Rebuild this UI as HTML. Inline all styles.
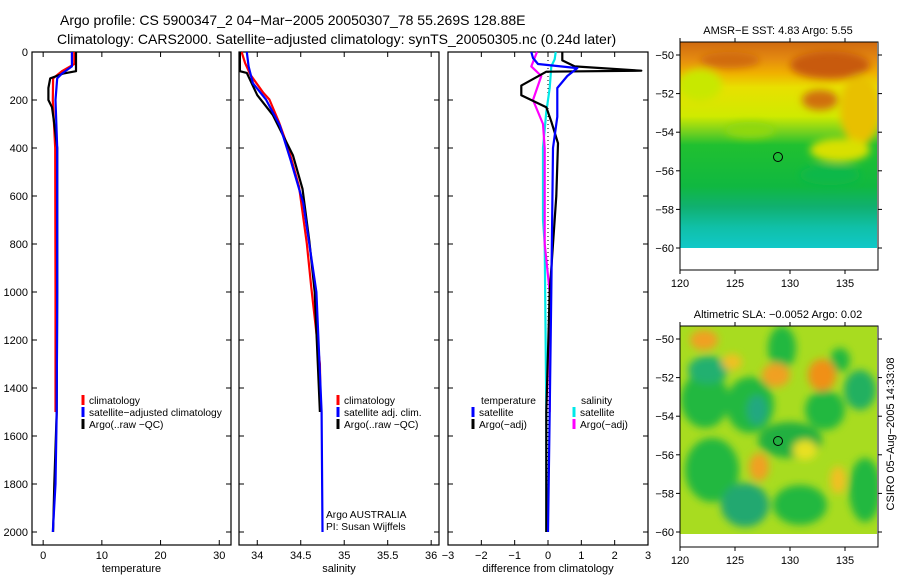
<!DOCTYPE html>
<html><head><meta charset="utf-8"><style>
body{margin:0;background:#fff;width:900px;height:580px;overflow:hidden}
svg{display:block;font-family:"Liberation Sans",sans-serif}
</style></head><body>
<svg id="c" width="900" height="580" viewBox="0 0 900 580">
<defs>
<linearGradient id="sstg" x1="0" y1="0" x2="0" y2="1">
<stop offset="0" stop-color="#d06a10"/><stop offset="0.08" stop-color="#e48a10"/>
<stop offset="0.15" stop-color="#f0b000"/><stop offset="0.22" stop-color="#e8e000"/>
<stop offset="0.36" stop-color="#d0ea00"/><stop offset="0.44" stop-color="#70d020"/>
<stop offset="0.5" stop-color="#20c030"/><stop offset="0.7" stop-color="#10b840"/>
<stop offset="0.8" stop-color="#10b070"/><stop offset="0.9" stop-color="#10c0a8"/>
<stop offset="1" stop-color="#10c8c8"/></linearGradient>
<filter id="bl"><feGaussianBlur stdDeviation="4"/></filter>
<clipPath id="m1"><rect x="680" y="42" width="197" height="206"/></clipPath>
<clipPath id="m2"><rect x="680" y="326" width="197" height="208"/></clipPath>
</defs>
<g id="titles" font-size="14">
<text x="60" y="25">Argo profile: CS 5900347_2 04−Mar−2005 20050307_78 55.269S 128.88E</text>
<text x="57" y="44">Climatology: CARS2000. Satellite−adjusted climatology: synTS_20050305.nc (0.24d later)</text>
</g>
<!-- SST map -->
<g>
<g clip-path="url(#m1)">
<rect x="680" y="42" width="197" height="206" fill="url(#sstg)"/>
<g filter="url(#bl)">
<ellipse cx="700" cy="85" rx="22" ry="16" fill="#c8e800"/>
<ellipse cx="830" cy="65" rx="40" ry="14" fill="#c85a08"/>
<ellipse cx="860" cy="110" rx="20" ry="35" fill="#e8c000"/>
<ellipse cx="820" cy="100" rx="18" ry="10" fill="#d07010"/>
<ellipse cx="730" cy="60" rx="30" ry="8" fill="#d06a10"/>
<ellipse cx="840" cy="150" rx="30" ry="12" fill="#d8e000"/>
<ellipse cx="750" cy="130" rx="25" ry="8" fill="#90d810"/>
<ellipse cx="830" cy="175" rx="30" ry="10" fill="#10b848"/>
</g></g>
<circle cx="778" cy="157" r="4.5" fill="none" stroke="#000"/>
<text x="778" y="34" font-size="11" text-anchor="middle">AMSR−E SST: 4.83 Argo: 5.55</text>
</g>
<!-- SLA map -->
<g>
<g clip-path="url(#m2)">
<rect x="680" y="326" width="197" height="208" fill="#a8dc20"/>
<g filter="url(#bl)">
<ellipse cx="705" cy="400" rx="24" ry="28" fill="#20b840"/>
<ellipse cx="708" cy="370" rx="20" ry="14" fill="#20b070"/>
<ellipse cx="750" cy="405" rx="24" ry="28" fill="#20b840"/>
<ellipse cx="757" cy="410" rx="10" ry="15" fill="#20a880"/>
<ellipse cx="782" cy="348" rx="14" ry="22" fill="#20b840"/>
<ellipse cx="790" cy="440" rx="32" ry="18" fill="#20b040"/>
<ellipse cx="825" cy="410" rx="20" ry="20" fill="#20b840"/>
<ellipse cx="860" cy="390" rx="16" ry="20" fill="#20b060"/>
<ellipse cx="712" cy="470" rx="27" ry="32" fill="#20b840"/>
<ellipse cx="745" cy="505" rx="24" ry="22" fill="#20a870"/>
<ellipse cx="800" cy="505" rx="27" ry="20" fill="#20b840"/>
<ellipse cx="865" cy="490" rx="16" ry="32" fill="#20b840"/>
<ellipse cx="840" cy="360" rx="10" ry="12" fill="#20b840"/>
<ellipse cx="776" cy="375" rx="14" ry="12" fill="#f0a020"/>
<ellipse cx="822" cy="375" rx="14" ry="16" fill="#f09018"/>
<ellipse cx="759" cy="467" rx="10" ry="14" fill="#f0a020"/>
<ellipse cx="704" cy="340" rx="14" ry="10" fill="#f0a020"/>
<ellipse cx="732" cy="362" rx="10" ry="8" fill="#f0c020"/>
<ellipse cx="838" cy="480" rx="8" ry="14" fill="#f0c020"/>
<ellipse cx="805" cy="450" rx="12" ry="10" fill="#e8e020"/>
</g></g>
<circle cx="778" cy="441" r="4.5" fill="none" stroke="#000"/>
<text x="778" y="318" font-size="11" text-anchor="middle">Altimetric SLA: −0.0052 Argo: 0.02</text>
</g>
<text transform="translate(894,434) rotate(-90)" font-size="11" text-anchor="middle">CSIRO 05−Aug−2005 14:33:08</text>
<g id="plots"></g>
</svg>
<script>
// ---- data ----
const tempDepthClim=[0,50,60,80,110,200,400,1000,1500];
const tempClim=[5.3,5.3,4.6,3.2,1.7,1.65,2.05,2.1,2.1];
const tempDepthSat=[0,60,90,110,200,400,1000,1500,1800,2000];
const tempSat=[4.9,4.9,3.2,2.4,2.1,2.4,2.4,2.3,2.1,1.65];
const tempDepthArgo=[0,80,90,110,150,200,230,300,400,1000,1500,1800,2000];
const tempArgo=[5.6,5.6,3.4,1.2,0.9,0.9,1.5,1.9,2.4,2.4,2.3,1.9,1.7];

const salDepthClim=[0,46,94,170,198,293,404,560,797,978,1300,1500];
const salClim=[33.82,33.86,33.92,34.07,34.14,34.25,34.36,34.48,34.57,34.62,34.72,34.73];
const salDepthSat=[0,60,130,198,307,446,630,1000,1500,2000];
const salSat=[33.88,33.9,33.95,34.1,34.26,34.38,34.53,34.68,34.74,34.75];
const salDepthArgo=[0,80,87,180,263,430,570,790,1000,1500];
const salArgo=[33.8,33.8,33.88,34.0,34.18,34.41,34.52,34.6,34.66,34.72];

const dDepthTSat=[0,25,50,67,100,150,270,400,1000,1500,2000];
const dTSat=[-0.5,-0.45,-0.3,0.88,0.58,0.28,0.28,0.15,0.1,0.05,0.0];
const dDepthTArgo=[0,35,60,78,82,140,180,230,290,380,600,800,1000,1500,2000];
const dTArgo=[0.43,0.43,0.8,2.8,-0.05,-0.8,-0.8,-0.05,0.1,0.3,0.25,0.15,0.05,-0.05,-0.05];
const dDepthSSat=[0,30,60,150,250,400,700,800,1500,2000];
const dSSat=[0.23,0.2,0.1,0.05,-0.05,-0.15,-0.15,-0.1,-0.05,-0.05];
const dDepthSArgo=[0,60,100,200,300,400,800,1000,1500];
const dSArgo=[-0.33,-0.5,-0.2,-0.45,-0.15,-0.1,-0.1,0.05,0.05];

const depthTicks=[0,200,400,600,800,1000,1200,1400,1600,1800,2000];
const tempTicks=[0,10,20,30];
const salTicks=[34,34.5,35,35.5,36];
const diffTicks=[-3,-2,-1,0,1,2,3];
const latTicks=[-50,-52,-54,-56,-58,-60];
const lonTicks=[120,125,130,135];

// ---- drawing ----
const NS='http://www.w3.org/2000/svg';
const root=document.getElementById('plots');
function mk(tag,attrs,parent){const e=document.createElementNS(NS,tag);for(const k in attrs)e.setAttribute(k,attrs[k]);(parent||root).appendChild(e);return e;}
const Y0=52,YB=545;
const yD=d=>Y0+d*0.24;
function panel(name,x0,x1,vmin,vmax,ticks,label,title){
  const g=mk('g',{});
  
  
  const sx=v=>x0+(v-vmin)/(vmax-vmin)*(x1-x0);
  mk('rect',{x:x0,y:Y0,width:x1-x0,height:YB-Y0,fill:'none',stroke:'#000','stroke-width':1.2},g);
  ticks.forEach(t=>{const x=sx(t);
    mk('line',{x1:x,x2:x,y1:YB,y2:YB-5,stroke:'#000'},g);
    mk('line',{x1:x,x2:x,y1:Y0,y2:Y0+5,stroke:'#000'},g);
    const tx=mk('text',{x:x,y:YB+14,'font-size':11,'text-anchor':'middle'},g);tx.textContent=String(label(t)).replace('-','−');
  });
  depthTicks.forEach(d=>{const y=yD(d);
    mk('line',{x1:x0,x2:x0+5,y1:y,y2:y,stroke:'#000'},g);
    mk('line',{x1:x1,x2:x1-5,y1:y,y2:y,stroke:'#000'},g);
  });
  const tt=mk('text',{x:(x0+x1)/2,y:572,'font-size':11,'text-anchor':'middle'},g);
  
  
  tt.textContent=title;
  return {g,sx};
}
function series(p,depths,vals,color,name,w){
  let d='';
  for(let i=0;i<vals.length;i++){
    const x=p.sx(vals[i]),y=yD(depths[i]);
    d+=(i?'L':'M')+x.toFixed(1)+','+y.toFixed(1);
  }
  const e=mk('path',{d:d,fill:'none',stroke:color,'stroke-width':w||2.2,'stroke-linejoin':'round'},p.g);
  
  
}
function legend(g,x,y,color,text,name){
  const l=mk('g',{},g);
  
  
  if(color) mk('line',{x1:x,x2:x,y1:y-9,y2:y+1,stroke:color,'stroke-width':3},l);
  const t=mk('text',{x:x+6,y:y,'font-size':10.2},l);t.textContent=text;
}
// y labels (depth)
const yl=mk('g',{});


depthTicks.forEach(d=>{const t=mk('text',{x:28,y:yD(d)+4,'font-size':11,'text-anchor':'end'},yl);t.textContent=d;});

const p1=panel('temperature-panel',32,231,-1.9,32,tempTicks,t=>t,'temperature');
series(p1,tempDepthClim,tempClim,'#f00','temp-climatology-line');
series(p1,tempDepthArgo,tempArgo,'#000','temp-argo-line');
series(p1,tempDepthSat,tempSat,'#00f','temp-satellite-line');
legend(p1.g,83,404,'#f00','climatology','legend-climatology');
legend(p1.g,83,416,'#00f','satellite−adjusted climatology','legend-satellite-adjusted');
legend(p1.g,83,428,'#000','Argo(..raw −QC)','legend-argo');

const p2=panel('salinity-panel',239,439,33.79,36.09,salTicks,t=>t,'salinity');
series(p2,salDepthClim,salClim,'#f00','sal-climatology-line');
series(p2,salDepthArgo,salArgo,'#000','sal-argo-line');
series(p2,salDepthSat,salSat,'#00f','sal-satellite-line');
legend(p2.g,338,404,'#f00','climatology','legend-climatology');
legend(p2.g,338,416,'#00f','satellite adj. clim.','legend-satellite-adj');
legend(p2.g,338,428,'#000','Argo(..raw −QC)','legend-argo');
legend(p2.g,320,518,null,'Argo AUSTRALIA','argo-australia-label');
legend(p2.g,320,530,null,'PI: Susan Wijffels','pi-label');

const p3=panel('difference-panel',448,648,-3,3,diffTicks,t=>t,'difference from climatology');
mk('line',{x1:p3.sx(0),x2:p3.sx(0),y1:Y0,y2:yD(2000),stroke:'#000','stroke-dasharray':'1,3'},p3.g);
series(p3,dDepthSSat,dSSat,'#00e8e8','sal-satellite-diff-line');
series(p3,dDepthSArgo,dSArgo,'#f0f','sal-argo-diff-line');
series(p3,dDepthTArgo,dTArgo,'#000','temp-argo-diff-line');
series(p3,dDepthTSat,dTSat,'#00f','temp-satellite-diff-line');
legend(p3.g,475,404,null,'temperature','legend-temperature-heading');
legend(p3.g,473,416,'#00f','satellite','legend-temp-satellite');
legend(p3.g,473,428,'#000','Argo(−adj)','legend-temp-argo');
legend(p3.g,575,404,null,'salinity','legend-salinity-heading');
legend(p3.g,574,416,'#00e8e8','satellite','legend-sal-satellite');
legend(p3.g,574,428,'#f0f','Argo(−adj)','legend-sal-argo');

// map axes
function mapAxes(name,top,bot,lat50,lat60){
  const g=mk('g',{});
  
  
  const x0=680,x1=878;
  mk('rect',{x:x0,y:top,width:x1-x0,height:bot-top,fill:'none',stroke:'#000'},g);
  const sy=l=>lat50+(l+50)/(-10)*(lat60-lat50);
  const sx=o=>x0+(o-120)*11;
  latTicks.forEach(l=>{const y=sy(l);
    mk('line',{x1:x0,x2:x0-4,y1:y,y2:y,stroke:'#000'},g);
    mk('line',{x1:x1,x2:x1+4,y1:y,y2:y,stroke:'#000'},g);
    const t=mk('text',{x:x0-6,y:y+4,'font-size':11,'text-anchor':'end'},g);t.textContent=String(l).replace('-','−');});
  lonTicks.forEach(o=>{const x=sx(o);
    mk('line',{x1:x,x2:x,y1:bot,y2:bot+4,stroke:'#000'},g);
    mk('line',{x1:x,x2:x,y1:top,y2:top-4,stroke:'#000'},g);
    const t=mk('text',{x:x,y:bot+17,'font-size':11,'text-anchor':'middle'},g);t.textContent=o;});
}
mapAxes('sst-map-axes',42,270,55,248);
mapAxes('sla-map-axes',326,547,339,532);
</script>
</body></html>
